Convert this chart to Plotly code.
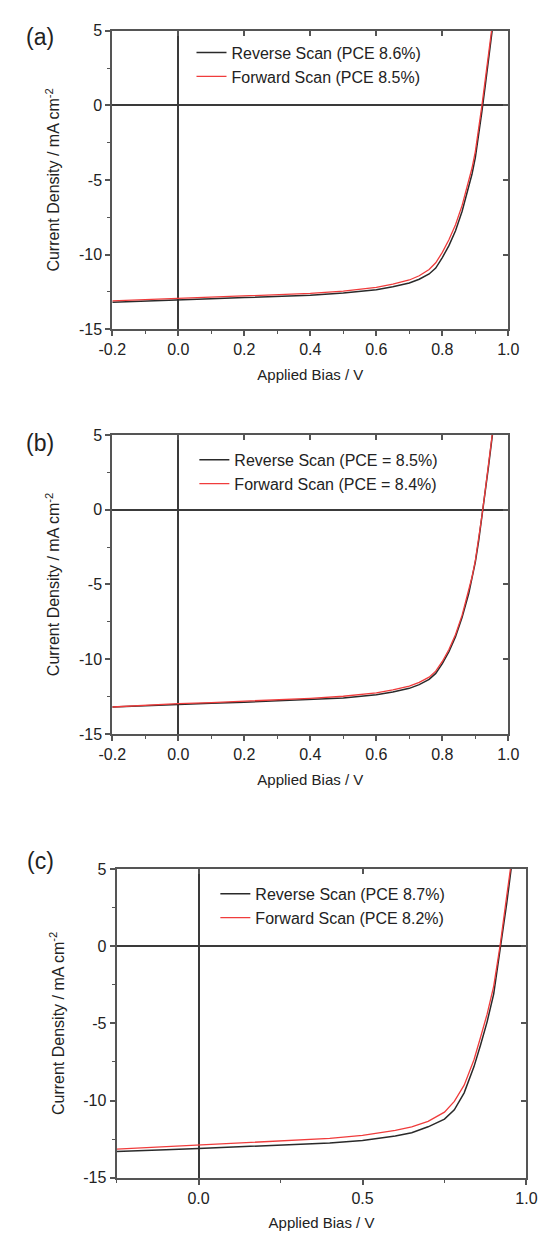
import plotly.graph_objects as go

W, H = 547, 1241

# ---------------- data ----------------
# Panel (a)
a_v = [-0.2, -0.1, 0.0, 0.1, 0.2, 0.3, 0.4, 0.5, 0.6, 0.65, 0.7, 0.73, 0.76, 0.78, 0.8,
       0.82, 0.84, 0.86, 0.88, 0.89, 0.9, 0.91, 0.92, 0.93, 0.94, 0.95, 0.955]
a_rev = [-13.2, -13.1, -13.0, -12.95, -12.88, -12.8, -12.72, -12.58, -12.35, -12.15, -11.9,
         -11.65, -11.3, -10.9, -10.2, -9.4, -8.4, -7.1, -5.5, -4.6, -3.5, -2.1, -0.4, 1.3,
         3.0, 4.8, 5.7]
a_fwd = [-13.1, -13.02, -12.95, -12.88, -12.8, -12.7, -12.6, -12.45, -12.2, -11.98, -11.7,
         -11.42, -11.0, -10.55, -9.85, -9.0, -8.0, -6.7, -5.1, -4.2, -3.1, -1.7, 0.0, 1.7,
         3.4, 5.2, 6.0]

# Panel (b)
b_v = a_v
b_rev = [-13.2, -13.1, -13.0, -12.95, -12.88, -12.8, -12.72, -12.6, -12.38, -12.2, -11.95,
         -11.7, -11.35, -10.95, -10.3, -9.5, -8.5, -7.2, -5.6, -4.6, -3.5, -2.1, -0.5, 1.2,
         2.9, 4.7, 5.6]
b_fwd = [-13.2, -13.08, -12.97, -12.9, -12.82, -12.72, -12.62, -12.48, -12.25, -12.05, -11.8,
         -11.55, -11.2, -10.8, -10.15, -9.35, -8.35, -7.05, -5.45, -4.5, -3.4, -2.0, -0.4,
         1.3, 3.0, 4.8, 5.7]

# Panel (c)
c_v = [-0.25, -0.2, -0.1, 0.0, 0.1, 0.2, 0.3, 0.4, 0.5, 0.55, 0.6, 0.65, 0.7, 0.75, 0.78,
       0.81, 0.84, 0.86, 0.88, 0.9, 0.92, 0.94, 0.955]
c_rev = [-13.3, -13.25, -13.18, -13.1, -13.02, -12.95, -12.85, -12.75, -12.58, -12.46, -12.3,
         -12.08, -11.7, -11.2, -10.6, -9.5, -7.8, -6.4, -4.9, -3.1, -0.3, 2.8, 5.3]
c_fwd = [-13.15, -13.1, -13.0, -12.9, -12.8, -12.7, -12.58, -12.45, -12.25, -12.1, -11.93,
         -11.7, -11.35, -10.75, -10.05, -9.0, -7.35, -5.9, -4.4, -2.6, 0.1, 3.3, 5.6]

# tick values / labels
y_tickvals = [-15, -10, -5, 0, 5]
y_ticktext = ["-15", "-10", "-5", "0", "5"]
ab_tickvals = [-0.2, 0.0, 0.2, 0.4, 0.6, 0.8, 1.0]
ab_ticktext = ["-0.2", "0.0", "0.2", "0.4", "0.6", "0.8", "1.0"]
c_tickvals = [0.0, 0.5, 1.0]
c_ticktext = ["0.0", "0.5", "1.0"]

panels = [
    dict(label="(a)", v=a_v, rev=a_rev, fwd=a_fwd,
         names=["Reverse Scan (PCE 8.6%)", "Forward Scan (PCE 8.5%)"],
         xrange=[-0.2, 1.0], tv=ab_tickvals, tt=ab_ticktext, xminor=0.1,
         px_x=(103, 518), px_y=(23, 325.7), leg=(186, 28), lab=(27, 29)),
    dict(label="(b)", v=b_v, rev=b_rev, fwd=b_fwd,
         names=["Reverse Scan (PCE = 8.5%)", "Forward Scan (PCE = 8.4%)"],
         xrange=[-0.2, 1.0], tv=ab_tickvals, tt=ab_ticktext, xminor=0.1,
         px_x=(103, 518), px_y=(433, 736), leg=(189, 441), lab=(27, 441)),
    dict(label="(c)", v=c_v, rev=c_rev, fwd=c_fwd,
         names=["Reverse Scan (PCE 8.7%)", "Forward Scan (PCE 8.2%)"],
         xrange=[-0.25, 1.0], tv=c_tickvals, tt=c_ticktext, xminor=0.25,
         px_x=(107.5, 537), px_y=(873, 1186), leg=(211, 881), lab=(28, 865)),
]

yrange = [-15, 5]
FONT = "Liberation Sans, Arial, sans-serif"
AX = "#555555"
TXT = "#222222"
BLACK = "#2a2a2a"
RED = "#f03c3c"

fig = go.Figure()
layout = dict(width=W, height=H, margin=dict(l=0, r=0, t=0, b=0),
              paper_bgcolor="white", plot_bgcolor="white",
              font=dict(family=FONT, size=15, color=TXT), showlegend=True)
annotations = []

for i, p in enumerate(panels):
    n = i + 1
    xs = "" if n == 1 else str(n)
    xo = str(n + 3)  # overlay axes for inward top/right ticks
    xd = [p["px_x"][0] / W, p["px_x"][1] / W]
    yd = [1 - p["px_y"][1] / H, 1 - p["px_y"][0] / H]
    legname = "legend" if n == 1 else f"legend{n}"

    fig.add_trace(go.Scatter(x=p["v"], y=p["rev"], mode="lines", name=p["names"][0],
                             line=dict(color=BLACK, width=1.5),
                             xaxis="x" + xs, yaxis="y" + xs, legend=legname))
    fig.add_trace(go.Scatter(x=p["v"], y=p["fwd"], mode="lines", name=p["names"][1],
                             line=dict(color=RED, width=1.3),
                             xaxis="x" + xs, yaxis="y" + xs, legend=legname))

    layout["xaxis" + xs] = dict(
        domain=xd, anchor="y" + xs, range=p["xrange"],
        tickmode="array", tickvals=p["tv"], ticktext=p["tt"],
        ticks="outside", ticklen=5, tickwidth=1.5, tickcolor=AX,
        minor=dict(dtick=p["xminor"], tick0=0, ticks="outside", ticklen=3, tickcolor=AX, tickwidth=1.2),
        showline=True, linecolor=AX, linewidth=2, mirror=True, showgrid=False,
        zeroline=True, zerolinecolor="#3a3a3a", zerolinewidth=1.5,
        tickfont=dict(size=16, color=TXT),
        title=dict(text="Applied Bias / V", font=dict(size=15, color=TXT), standoff=12))
    layout["yaxis" + xs] = dict(
        domain=yd, anchor="x" + xs, range=yrange,
        tickmode="array", tickvals=y_tickvals, ticktext=y_ticktext,
        ticks="outside", ticklen=5, tickwidth=1.5, tickcolor=AX,
        minor=dict(dtick=2.5, tick0=0, ticks="outside", ticklen=3, tickcolor=AX, tickwidth=1.2),
        showline=True, linecolor=AX, linewidth=2, mirror=True, showgrid=False,
        zeroline=True, zerolinecolor="#3a3a3a", zerolinewidth=1.5,
        tickfont=dict(size=16, color=TXT),
        title=dict(text="Current Density / mA cm<sup>-2</sup>", font=dict(size=16, color=TXT), standoff=15))
    layout["xaxis" + xo] = dict(
        overlaying="x" + xs, anchor="y" + xs, side="top", range=p["xrange"],
        tickmode="array", tickvals=p["tv"], ticks="inside", ticklen=5, tickwidth=1.5, tickcolor=AX,
        showticklabels=False, showline=False, showgrid=False, zeroline=False)
    layout["yaxis" + xo] = dict(
        overlaying="y" + xs, anchor="x" + xs, side="right", range=yrange,
        tickmode="array", tickvals=y_tickvals, ticks="inside", ticklen=5, tickwidth=1.5, tickcolor=AX,
        showticklabels=False, showline=False, showgrid=False, zeroline=False)

    layout[legname] = dict(x=p["leg"][0] / W, y=1 - p["leg"][1] / H, xanchor="left", yanchor="top",
                           bgcolor="rgba(0,0,0,0)", font=dict(size=16, color=TXT),
                           tracegroupgap=0, itemclick=False)

    annotations.append(dict(text=p["label"], x=p["lab"][0] / W, y=1 - p["lab"][1] / H,
                            xref="paper", yref="paper", showarrow=False,
                            xanchor="center", yanchor="middle",
                            font=dict(size=23, color=TXT, family=FONT)))

# empty traces so the overlay (tick-only) axes are drawn
for i in range(3):
    xo = str(i + 4)
    fig.add_trace(go.Scatter(x=[None], y=[None], xaxis="x" + xo, yaxis="y" + xo,
                             showlegend=False, hoverinfo="skip"))

layout["annotations"] = annotations
fig.update_layout(**layout)
fig.write_html("out.html", config={"displayModeBar": False},
               post_script="document.body.style.margin='0';")
